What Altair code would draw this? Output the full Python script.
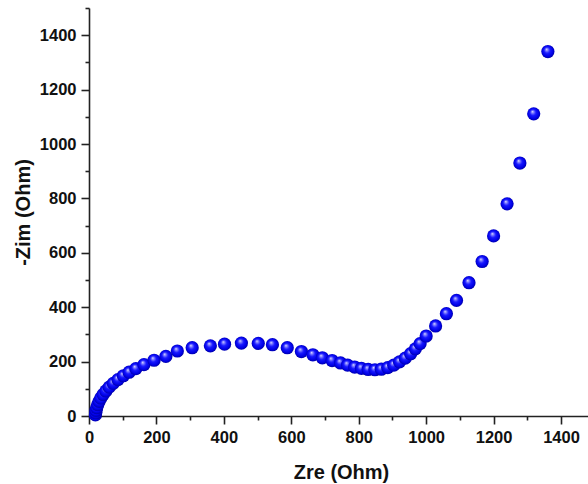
import altair as alt
import pandas as pd

# Nyquist data (Ohm)
zre = [19, 20, 21, 23, 26, 30, 35, 42, 50, 60, 72, 86, 102, 119, 139, 163, 193, 228,
       262, 306, 360, 402, 452, 502, 544, 588, 630, 664, 692, 721, 746, 767, 788, 808,
       828, 848, 867, 886, 904, 921, 938, 954, 968, 982, 1000, 1028, 1060, 1090, 1127,
       1166, 1200, 1240, 1278, 1319, 1361]
zim = [4, 12, 21, 31, 42, 54, 66, 79, 92, 106, 120, 134, 148, 161, 174, 189, 205, 219,
       239, 251, 258, 264, 268, 267, 262, 251, 237, 225, 214, 204, 195, 187, 180, 175,
       171, 170, 172, 178, 187, 199, 213, 229, 247, 266, 294, 331, 376, 425, 490,
       568, 662, 780, 930, 1111, 1340]

x_ticks = list(range(0, 1401, 100))
y_ticks = list(range(0, 1501, 100))

df = pd.DataFrame({"zre": zre, "zim": zim})

FONT = "Liberation Sans"

ball = alt.RadialGradient(
    gradient="radial",
    x1=0.4, y1=0.33, r1=0.0,
    x2=0.5, y2=0.5, r2=0.55,
    stops=[
        alt.GradientStop(color="#e8e8ff", offset=0.0),
        alt.GradientStop(color="#8a8aff", offset=0.15),
        alt.GradientStop(color="#1818ff", offset=0.42),
        alt.GradientStop(color="#0000e6", offset=0.75),
        alt.GradientStop(color="#00008c", offset=1.0),
    ],
)

tick_size = {"condition": {"test": "datum.value % 200 === 0", "value": 8}, "value": 4}
label_expr = "datum.value % 200 === 0 ? datum.label : ''"

chart = alt.Chart(df).mark_circle(fill=ball, size=175, opacity=1).encode(
    x=alt.X(
        "zre:Q",
        scale=alt.Scale(domain=[0, 1480], nice=False, zero=False),
        axis=alt.Axis(
            title="Zre (Ohm)",
            values=x_ticks,
            format="d",
            labelExpr=label_expr,
            tickSize=tick_size,
            labelFlush=False,
            labelOverlap=False,
            grid=False,
            titleX=252,
            titleY=62,
            titleBaseline="alphabetic",
            titleAlign="center",
        ),
    ),
    y=alt.Y(
        "zim:Q",
        scale=alt.Scale(domain=[0, 1500], nice=False, zero=False),
        axis=alt.Axis(
            title="-Zim (Ohm)",
            values=y_ticks,
            format="d",
            labelExpr=label_expr,
            tickSize=tick_size,
            labelOverlap=False,
            grid=False,
            titleX=-66,
            titleY=204,
            titleAngle=270,
            titleAlign="center",
            titleBaseline="middle",
        ),
    ),
).properties(
    width=499,
    height=408,
    autosize=alt.AutoSizeParams(type="none"),
    padding={"left": 89, "top": 8, "right": 0, "bottom": 68},
).configure_view(
    stroke=None
).configure_axis(
    domainColor="#222222",
    domainWidth=1.6,
    tickColor="#222222",
    tickWidth=1.6,
    labelFont=FONT,
    labelFontSize=16.5,
    labelFontWeight="bold",
    labelColor="#111111",
    labelPadding=5,
    titleFont=FONT,
    titleFontSize=20,
    titleFontWeight="bold",
    titleColor="#111111",
)

chart.save("out.html", embed_options={"renderer": "svg", "actions": False})
